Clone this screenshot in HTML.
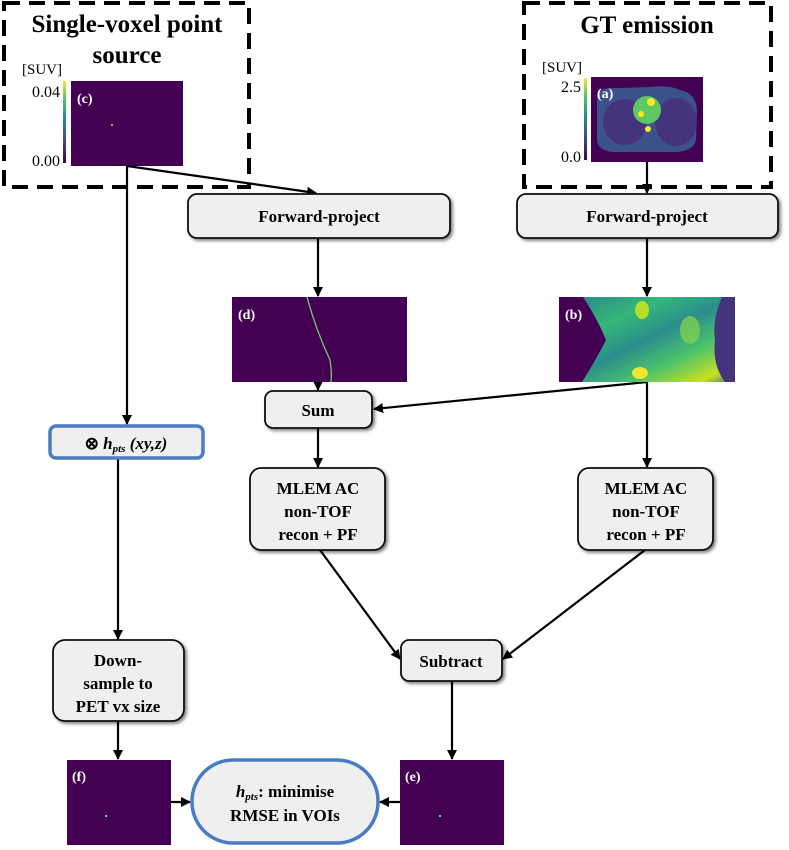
<!DOCTYPE html>
<html><head><meta charset="utf-8"><style>
html,body{margin:0;padding:0;background:#fff}
text{font-family:"Liberation Serif",serif}
</style></head><body>
<svg width="789" height="845" viewBox="0 0 789 845" xmlns="http://www.w3.org/2000/svg">
<defs>
<marker id="ah" markerWidth="10" markerHeight="10" refX="9" refY="5" orient="auto" markerUnits="userSpaceOnUse">
<path d="M0,0 L10,5 L0,10 z" fill="#000"/></marker>
<linearGradient id="vir" x1="0" y1="1" x2="0" y2="0">
<stop offset="0" stop-color="#440154"/><stop offset="0.3" stop-color="#3b528b"/><stop offset="0.55" stop-color="#21918c"/><stop offset="0.8" stop-color="#5ec962"/><stop offset="1" stop-color="#fde725"/></linearGradient>
<linearGradient id="bg" x1="0" y1="0" x2="1" y2="1">
<stop offset="0" stop-color="#2a7f8e"/><stop offset="0.3" stop-color="#35b779"/><stop offset="0.5" stop-color="#2a8e8c"/><stop offset="0.7" stop-color="#4cc26c"/><stop offset="0.9" stop-color="#c8e020"/><stop offset="1" stop-color="#2c728e"/></linearGradient>
<filter id="sh" x="-10%" y="-10%" width="130%" height="130%"><feDropShadow dx="2" dy="2" stdDeviation="1.5" flood-opacity="0.5"/></filter>
</defs>

<rect x="4" y="3" width="245" height="184" fill="none" stroke="#000" stroke-width="4" stroke-dasharray="16,9"/>
<rect x="524" y="3" width="247" height="184" fill="none" stroke="#000" stroke-width="4" stroke-dasharray="16,9"/>
<text x="127" y="32" font-size="25" font-weight="bold" text-anchor="middle">Single-voxel point</text>
<text x="127" y="63" font-size="25" font-weight="bold" text-anchor="middle">source</text>
<text x="647" y="33" font-size="25" font-weight="bold" text-anchor="middle">GT emission</text>

<text x="22" y="74" font-size="15">[SUV]</text>
<rect x="63" y="81" width="3" height="82" fill="url(#vir)"/>
<text x="60" y="97" font-size="16" text-anchor="end">0.04</text>
<text x="60" y="166" font-size="16" text-anchor="end">0.00</text>
<rect x="71" y="81" width="112" height="85" fill="#440154"/>
<text x="77" y="103" font-size="14" font-weight="bold" fill="#fff">(c)</text>
<rect x="111" y="124" width="2" height="2" fill="#c9a060"/>

<text x="542" y="72" font-size="15">[SUV]</text>
<rect x="584" y="78" width="3" height="82" fill="url(#vir)"/>
<text x="581" y="92" font-size="16" text-anchor="end">2.5</text>
<text x="581" y="162" font-size="16" text-anchor="end">0.0</text>
<rect x="591" y="77" width="112" height="85" fill="#440154"/>
<path d="M597,94 Q600,87 620,88 L650,87 Q670,85 680,90 Q696,93 697,110 L696,140 Q693,153 670,152 L620,152 Q598,153 597,140 Z" fill="#3b528b"/>
<ellipse cx="625" cy="122" rx="22" ry="23" fill="#46337e"/>
<ellipse cx="676" cy="122" rx="21" ry="24" fill="#46337e"/>
<ellipse cx="647" cy="110" rx="14" ry="14" fill="#5ec962"/>
<circle cx="651" cy="102" r="4" fill="#fde725"/><circle cx="641" cy="114" r="3" fill="#fde725"/><circle cx="648" cy="129" r="3" fill="#fde725"/>
<text x="597" y="98" font-size="14" font-weight="bold" fill="#fff">(a)</text>

<g stroke="#000" stroke-width="2.2" fill="none">
<line x1="127" y1="166" x2="127" y2="424" marker-end="url(#ah)"/>
<line x1="127" y1="166" x2="316" y2="193" marker-end="url(#ah)"/>
<line x1="647" y1="162" x2="647" y2="193" marker-end="url(#ah)"/>
<line x1="318" y1="238" x2="318" y2="296" marker-end="url(#ah)"/>
<line x1="647" y1="238" x2="647" y2="296" marker-end="url(#ah)"/>
<line x1="318" y1="382" x2="318" y2="390" marker-end="url(#ah)"/>
<line x1="647" y1="382" x2="374" y2="409" marker-end="url(#ah)"/>
<line x1="647" y1="382" x2="647" y2="467" marker-end="url(#ah)"/>
<line x1="318" y1="428" x2="318" y2="467" marker-end="url(#ah)"/>
<line x1="320" y1="550" x2="400" y2="659" marker-end="url(#ah)"/>
<line x1="645" y1="550" x2="503" y2="659" marker-end="url(#ah)"/>
<line x1="118" y1="458" x2="118" y2="639" marker-end="url(#ah)"/>
<line x1="118" y1="720" x2="118" y2="759" marker-end="url(#ah)"/>
<line x1="452" y1="681" x2="452" y2="759" marker-end="url(#ah)"/>
<line x1="171" y1="802" x2="190" y2="802" marker-end="url(#ah)"/>
<line x1="400" y1="802" x2="380" y2="802" marker-end="url(#ah)"/>
</g>

<g fill="#efefef" stroke="#111" stroke-width="1.8" filter="url(#sh)">
<rect x="188" y="194" width="262" height="44" rx="9"/>
<rect x="517" y="194" width="261" height="44" rx="9"/>
<rect x="265" y="391" width="107" height="37" rx="8"/>
<rect x="250" y="468" width="135" height="82" rx="11"/>
<rect x="578" y="468" width="135" height="82" rx="11"/>
<rect x="53" y="640" width="131" height="81" rx="12"/>
<rect x="401" y="640" width="101" height="41" rx="8"/>
</g>
<rect x="50" y="426" width="153" height="32" rx="6" fill="#efefef" stroke="#4a7cc4" stroke-width="3.5"/>
<rect x="192" y="760" width="186" height="83" rx="41" fill="#efefef" stroke="#4a7cc4" stroke-width="3.5"/>

<g font-size="17" font-weight="bold" text-anchor="middle">
<text x="319" y="222">Forward-project</text>
<text x="647" y="222">Forward-project</text>
<text x="318" y="416">Sum</text>
<text x="318" y="494">MLEM AC</text><text x="318" y="517">non-TOF</text><text x="318" y="540">recon + PF</text>
<text x="646" y="494">MLEM AC</text><text x="646" y="517">non-TOF</text><text x="646" y="540">recon + PF</text>
<text x="118" y="666">Down-</text><text x="118" y="689">sample to</text><text x="118" y="712">PET vx size</text>
<text x="451" y="667">Subtract</text>
<text x="126" y="449">⊗ <tspan font-style="italic">h<tspan font-size="11" dy="3">pts</tspan><tspan dy="-3"> (xy,z)</tspan></tspan></text>
<text x="285" y="797"><tspan font-style="italic">h<tspan font-size="11" dy="3">pts</tspan></tspan><tspan dy="-3">: minimise</tspan></text>
<text x="285" y="821">RMSE in VOIs</text>
</g>

<rect x="232" y="297" width="175" height="85" fill="#440154"/>
<path d="M307,297 Q316,330 330,360 Q332,372 331,382" stroke="#6fd06a" stroke-width="1.3" fill="none"/>
<text x="238" y="319" font-size="14" font-weight="bold" fill="#fff">(d)</text>

<rect x="559" y="297" width="176" height="85" fill="url(#bg)"/>
<path d="M559,297 L583,297 Q598,320 606,340 Q596,360 582,382 L559,382 Z" fill="#440154"/>
<path d="M735,297 L722,297 Q712,320 715,340 Q712,365 725,382 L735,382 Z" fill="#46337e"/>
<ellipse cx="640" cy="373" rx="8" ry="6" fill="#f0e530"/>
<ellipse cx="642" cy="310" rx="7" ry="9" fill="#b5de2b"/>
<ellipse cx="690" cy="330" rx="10" ry="14" fill="#7ad151" opacity="0.8"/>
<text x="565" y="319" font-size="14" font-weight="bold" fill="#fff">(b)</text>

<rect x="67" y="760" width="104" height="85" fill="#440154"/>
<rect x="105" y="815" width="2" height="2" fill="#6cc"/>
<text x="72" y="781" font-size="14" font-weight="bold" fill="#fff">(f)</text>
<rect x="400" y="760" width="104" height="85" fill="#440154"/>
<rect x="439" y="815" width="2" height="2" fill="#6cc"/>
<text x="405" y="781" font-size="14" font-weight="bold" fill="#fff">(e)</text>
</svg>
</body></html>
